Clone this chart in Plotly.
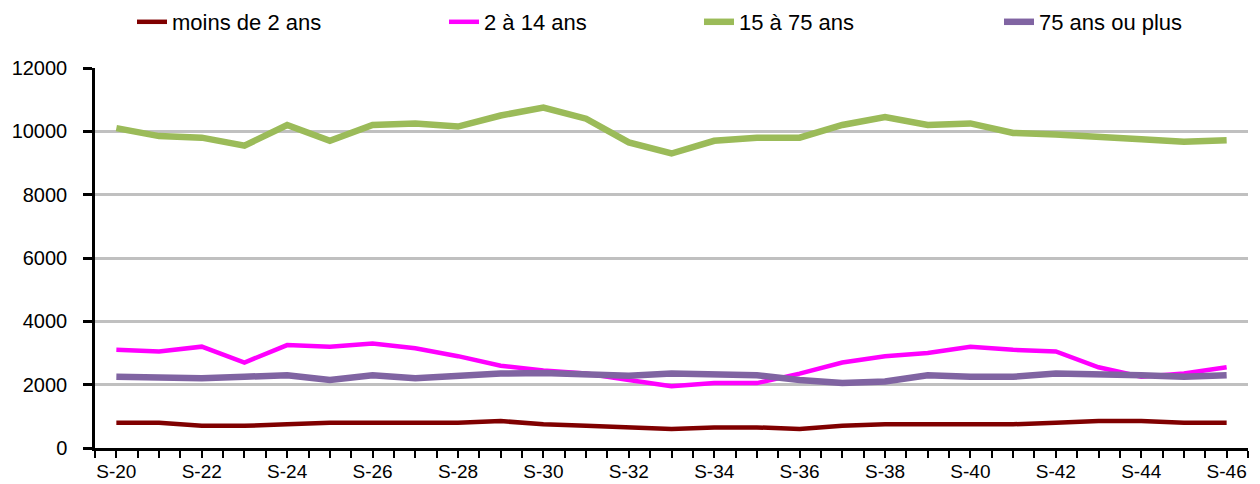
import plotly.graph_objects as go

weeks = ["S-%d" % w for w in range(20, 47)]
moins_2 = [800, 800, 700, 700, 750, 800, 800, 800, 800, 850, 750, 700, 650, 600,
           650, 650, 600, 700, 750, 750, 750, 750, 800, 850, 850, 800, 800]
de_2_14 = [3100, 3050, 3200, 2700, 3250, 3200, 3300, 3150, 2900, 2600, 2450, 2350, 2150, 1950,
           2050, 2050, 2350, 2700, 2900, 3000, 3200, 3100, 3050, 2550, 2250, 2350, 2550]
de_15_75 = [10100, 9850, 9800, 9550, 10200, 9700, 10200, 10250, 10150, 10500, 10750, 10400, 9650, 9300,
            9700, 9800, 9800, 10200, 10450, 10200, 10250, 9950, 9900, 9800, 9750, 9670, 9720]
plus_75 = [2250, 2200, 2200, 2250, 2300, 2150, 2300, 2200, 2300, 2350, 2370, 2350, 2280, 2350,
           2300, 2300, 2150, 2050, 2100, 2300, 2250, 2250, 2350, 2350, 2300, 2250, 2300]
y_ticks = [0, 2000, 4000, 6000, 8000, 10000, 12000]

series = [
    ("moins de 2 ans", moins_2, "#800000", 4.5, "legend"),
    ("2 à 14 ans", de_2_14, "#FF00FF", 4.5, "legend2"),
    ("15 à 75 ans", de_15_75, "#9BBB59", 6.5, "legend3"),
    ("75 ans ou plus", plus_75, "#8064A2", 6.5, "legend4"),
]

x_idx = list(range(len(weeks)))
fig = go.Figure()
for name, vals, col, w, lg in series:
    fig.add_trace(go.Scatter(x=x_idx, y=vals, mode="lines", name=name,
                             line=dict(color=col, width=w), legend=lg))

FONT = "Liberation Sans, Arial, sans-serif"
L, R, T, B = 95, 12, 68, 36
W, H = 1260, 484
pw = W - L - R
ph = H - T - B

def lx(px):
    return (px - L) / pw

ly = (H - B - 22) / ph
leg_common = dict(orientation="h", yanchor="middle", xanchor="left", y=ly,
                  bgcolor="rgba(0,0,0,0)", font=dict(family=FONT, size=22, color="#000"),
                  itemwidth=30, tracegroupgap=0)
text_starts = [175, 487, 742, 1042]
legs = {}
for i, ts in enumerate(text_starts):
    key = "legend" if i == 0 else "legend%d" % (i + 1)
    legs[key] = dict(leg_common, x=lx(ts - 43))

fig.update_layout(
    width=W, height=H,
    margin=dict(l=L, r=R, t=T, b=B, autoexpand=False),
    plot_bgcolor="white", paper_bgcolor="white",
    font=dict(family=FONT, size=20, color="#000"),
    showlegend=True,
    **legs,
    xaxis=dict(
        range=[-0.5, len(weeks) - 0.5],
        tickvals=x_idx[::2], ticktext=weeks[::2],
        ticks="outside", ticklen=7, tickwidth=2, tickcolor="#000",
        minor=dict(tick0=-0.5, dtick=0.5, ticks="outside", ticklen=7, tickwidth=2, tickcolor="#000", showgrid=False),
        showline=True, linecolor="#000", linewidth=2.5,
        showgrid=False, zeroline=False, automargin=False,
        ticklabelstandoff=-3,
        tickfont=dict(family=FONT, size=19, color="#000"),
    ),
    yaxis=dict(
        range=[0, 12000], tickvals=y_ticks, ticktext=[str(v) for v in y_ticks],
        ticks="outside", ticklen=9, tickwidth=2.5, tickcolor="#000",
        showline=True, linecolor="#000", linewidth=2.5,
        showgrid=True, gridcolor="#C0C0C0", gridwidth=2.5,
        zeroline=False, ticklabelstandoff=12, automargin=False,
        tickfont=dict(family=FONT, size=20, color="#000"),
    ),
)
fig.write_html("out.html", config={"displayModeBar": False},
               post_script="document.body.style.margin='0';document.body.style.overflow='hidden';")
